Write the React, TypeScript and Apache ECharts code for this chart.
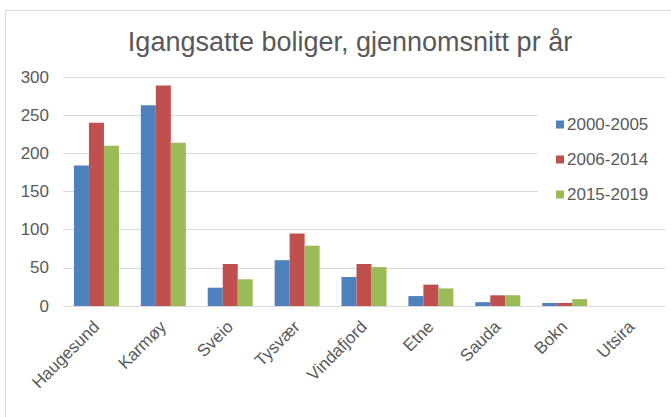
import React, { useEffect, useRef } from "react";
import * as echarts from "echarts";

const categories = ["Haugesund", "Karmøy", "Sveio", "Tysvær", "Vindafjord", "Etne", "Sauda", "Bokn", "Utsira"];
const seriesNames = ["2000-2005", "2006-2014", "2015-2019"];
const values2000_2005 = [184, 263, 24, 60, 38, 13, 5, 4, 0];
const values2006_2014 = [240, 289, 55, 95, 55, 28, 14, 4, 0];
const values2015_2019 = [210, 214, 35, 79, 51, 23, 14, 9, 0];
const colors = ["#4F81BD", "#C0504D", "#9BBB59"];
const yTicks = { min: 0, max: 300, interval: 50 };

export default function App() {
  const ref = useRef<HTMLDivElement>(null);
  useEffect(() => {
    if (!ref.current) return;
    const chart = echarts.init(ref.current, null, { renderer: "svg" });
    const font = "Liberation Sans, Arial, sans-serif";
    const data = [values2000_2005, values2006_2014, values2015_2019];
    chart.setOption({
      animation: false,
      backgroundColor: "#ffffff",
      color: colors,
      title: {
        text: "Igangsatte boliger, gjennomsnitt pr år",
        left: 345,
        textAlign: "center",
        top: 23,
        textStyle: { fontFamily: font, fontSize: 27, fontWeight: "normal", color: "#595959" },
      },
      graphic: [
        {
          type: "rect",
          shape: { x: 5.5, y: 10.5, width: 700, height: 450 },
          style: { fill: "none", stroke: "#d9d9d9", lineWidth: 1 },
          silent: true,
          z: -1,
        },
      ],
      legend: {
        orient: "vertical",
        left: 538,
        top: 90,
        width: 140,
        backgroundColor: "#ffffff",
        padding: [26, 20, 14, 18],
        itemWidth: 8,
        itemHeight: 8,
        itemGap: 18,
        icon: "rect",
        data: seriesNames,
        textStyle: { fontFamily: font, fontSize: 17, color: "#595959", padding: [0, 0, 0, -2] },
        z: 10,
      },
      grid: { left: 63, right: 6, top: 77, bottom: 111, containLabel: false },
      xAxis: {
        type: "category",
        data: categories,
        axisLine: { lineStyle: { color: "#d9d9d9" } },
        axisTick: { show: false },
        axisLabel: {
          interval: 0,
          rotate: 45,
          margin: 18,
          fontFamily: font,
          fontSize: 17,
          color: "#595959",
        },
      },
      yAxis: {
        type: "value",
        min: yTicks.min,
        max: yTicks.max,
        interval: yTicks.interval,
        axisLine: { show: false },
        axisTick: { show: false },
        splitLine: { lineStyle: { color: "#d9d9d9" } },
        axisLabel: { margin: 14, fontFamily: font, fontSize: 17, color: "#595959" },
      },
      series: seriesNames.map((name, i) => ({
        name,
        type: "bar",
        data: data[i],
        barWidth: 15,
        barGap: "0%",
        itemStyle: { color: colors[i] },
      })),
    });
    return () => chart.dispose();
  }, []);
  return (
    <div
      ref={ref}
      style={{ position: "fixed", left: 0, top: 0, width: 671, height: 417 }}
    />
  );
}
